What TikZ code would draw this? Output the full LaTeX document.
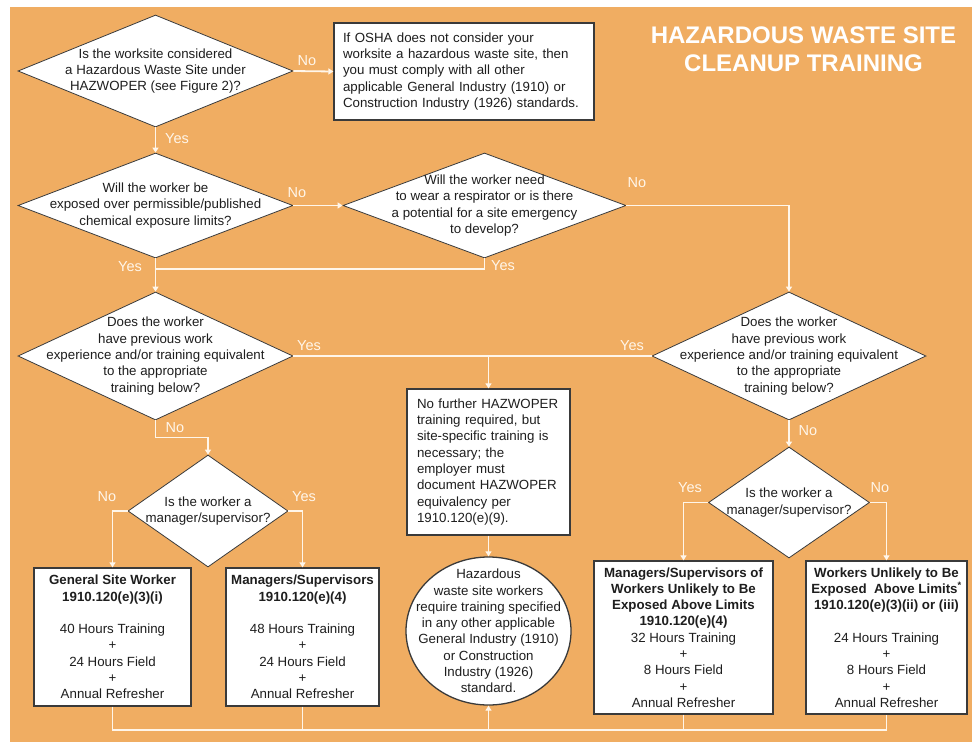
\documentclass[tikz,border=0pt]{standalone}
\usepackage{fontspec}
\setmainfont{Liberation Sans}
\usetikzlibrary{shapes.geometric,arrows.meta}
\definecolor{bgorange}{HTML}{F0AD62}
\definecolor{linecol}{HTML}{FFF6EA}
\definecolor{edgecol}{HTML}{3A3A3A}
\definecolor{txtcol}{HTML}{1E1E1E}
\tikzset{
  decision/.style={diamond, draw=edgecol, line width=0.8pt, fill=white, inner sep=0pt},
  txt/.style={font=\fontsize{13.3}{16.3}\selectfont, text=txtcol, align=center},
  infobox/.style={draw=edgecol, line width=1.3pt, fill=white, inner sep=0pt,
     font=\fontsize{13.3}{16.3}\selectfont, text=txtcol},
  flow/.style={draw=linecol, line width=1.8pt},
  flowarrow/.style={flow, -{Triangle[width=6pt,length=5pt]}},
  lab/.style={font=\fontsize{14.5}{16}\selectfont, text=linecol, inner sep=0pt}
}
\begin{document}
\begin{tikzpicture}[x=1pt,y=-1pt]
\useasboundingbox (0,0) rectangle (972,742);
\fill[white] (0,0) rectangle (972,742);
\fill[bgorange] (10,7) rectangle (972,742);

% title
\node[font=\fontsize{24}{28}\selectfont\bfseries, text=white, align=center] (title) at (803.5,49) {HAZARDOUS WASTE SITE\\CLEANUP TRAINING};

% decisions
\node[decision, minimum width=275pt, minimum height=112pt] (d1) at (155.5,71) {};
\node[txt] (t1) at (d1.center) {Is the worksite considered\\a Hazardous Waste Site under\\HAZWOPER (see Figure 2)?};

\node[decision, minimum width=275pt, minimum height=105pt] (d2) at (155.5,205.5) {};
\node[txt] (t2) at (d2.center) {Will the worker be\\exposed over permissible/published\\chemical exposure limits?};

\node[decision, minimum width=283pt, minimum height=105pt] (d3) at (484.5,205.5) {};
\node[txt] (t3) at (d3.center) {Will the worker need\\to wear a respirator or is there\\a potential for a site emergency\\to develop?};

\node[decision, minimum width=275pt, minimum height=128pt] (d4) at (155.5,356) {};
\node[txt] (t4) at (d4.center) {Does the worker\\have previous work\\experience and/or training equivalent\\to the appropriate\\training below?};

\node[decision, minimum width=274pt, minimum height=128pt] (d5) at (789,356) {};
\node[txt] (t5) at (d5.center) {Does the worker\\have previous work\\experience and/or training equivalent\\to the appropriate\\training below?};

\node[decision, minimum width=160pt, minimum height=112pt] (d6) at (208,511) {};
\node[txt] (t6) at (d6.center) {Is the worker a\\manager/supervisor?};

\node[decision, minimum width=161pt, minimum height=111pt] (d7) at (789,502.5) {};
\node[txt] (t7) at (d7.center) {Is the worker a\\manager/supervisor?};

% boxes
\node[infobox, minimum width=260pt, minimum height=97pt, text width=242pt, align=left] (b1) at (464,71.5)
  {If OSHA does not consider your\\worksite a hazardous waste site, then\\you must comply with all other\\applicable General Industry (1910) or\\Construction Industry (1926) standards.};

\node[infobox, minimum width=163pt, minimum height=146pt, text width=143pt, align=left] (b2) at (488.5,462)
  {No further HAZWOPER\\training required, but\\site-specific training is\\necessary; the\\employer must\\document HAZWOPER\\equivalency per\\1910.120(e)(9).};

\node[ellipse, draw=edgecol, line width=1.3pt, fill=white, minimum width=165pt, minimum height=148pt, inner sep=0pt] (c1) at (488.5,631) {};
\node[txt] (tc1) at (c1.center) {Hazardous\\waste site workers\\require training specified\\in any other applicable\\General Industry (1910)\\or Construction\\Industry (1926)\\standard.};

\node[infobox, minimum width=157pt, minimum height=138pt, align=center] (gsw) at (112.5,637)
  {\textbf{General Site Worker}\\\textbf{1910.120(e)(3)(i)}\\[16.3pt]40 Hours Training\\+\\24 Hours Field\\+\\Annual Refresher};

\node[infobox, minimum width=153pt, minimum height=138pt, align=center] (ms) at (302.5,637)
  {\textbf{Managers/Supervisors}\\\textbf{1910.120(e)(4)}\\[16.3pt]48 Hours Training\\+\\24 Hours Field\\+\\Annual Refresher};

\node[infobox, minimum width=179pt, minimum height=153pt, align=center] (msw) at (683.5,637.5)
  {\textbf{Managers/Supervisors of}\\\textbf{Workers Unlikely to Be}\\\textbf{Exposed Above Limits}\\\textbf{1910.120(e)(4)}\\32 Hours Training\\+\\8 Hours Field\\+\\Annual Refresher};

\node[infobox, minimum width=161pt, minimum height=153pt, align=center] (wu) at (886.5,637.5)
  {\textbf{Workers Unlikely to Be}\\\textbf{Exposed\ \ Above Limits\textsuperscript{*}}\\\textbf{1910.120(e)(3)(ii) or (iii)}\\[16.3pt]24 Hours Training\\+\\8 Hours Field\\+\\Annual Refresher};

% connectors
\draw[flowarrow] (d1.east) -- (b1.west);
\draw[flowarrow] (d1.south) -- (d2.north);
\draw[flowarrow] (d2.east) -- (d3.west);
\coordinate (j1) at (155.5,269);
\draw[flow] (d3.south) |- (j1);
\draw[flowarrow] (d2.south) -- (d4.north);
\draw[flowarrow] (d3.east) -| (d5.north);
\draw[flow] (d4.east) -- (d5.west);
\draw[flowarrow] (b2.north |- d4.east) -- (b2.north);
\draw[flowarrow] (b2.south) -- (c1.north);
\draw[flowarrow] (d4.south) -- ++(0,17) -| (d6.north);
\draw[flowarrow] (d6.west) -| (gsw.north);
\draw[flowarrow] (d6.east) -| (ms.north);
\draw[flowarrow] (d5.south) -- (d7.north);
\draw[flowarrow] (d7.west) -| (msw.north);
\draw[flowarrow] (d7.east) -| (wu.north);
\coordinate (bl) at (0,730);
\draw[flow] (gsw.south) -- (gsw.south |- bl) -- (wu.south |- bl) -- (wu.south);
\draw[flow] (ms.south) -- (ms.south |- bl);
\draw[flow] (msw.south) -- (msw.south |- bl);
\draw[flowarrow] (c1.south |- bl) -- (c1.south);

% labels
\node[lab] (l1) at (307,61) {No};
\node[lab] (l2) at (177,139) {Yes};
\node[lab] (l3) at (297,193) {No};
\node[lab] (l4) at (130,267) {Yes};
\node[lab] (l5) at (503,266) {Yes};
\node[lab] (l6) at (637,183) {No};
\node[lab] (l7) at (309,346) {Yes};
\node[lab] (l8) at (632,346) {Yes};
\node[lab] (l9) at (175,428) {No};
\node[lab] (l10) at (808,431) {No};
\node[lab] (l11) at (107,497) {No};
\node[lab] (l12) at (304,497) {Yes};
\node[lab] (l13) at (690,488) {Yes};
\node[lab] (l14) at (880,488) {No};
\end{tikzpicture}
\end{document}
